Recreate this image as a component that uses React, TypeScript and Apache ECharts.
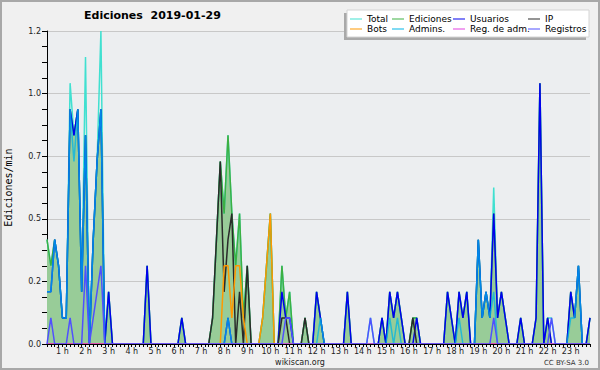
import React, { useEffect, useRef } from 'react';
import * as echarts from 'echarts';

// 10-minute bins from 00:20 to 23:50
const START_MIN = 20;
const STEP_MIN = 10;
const BIN_COUNT = 142;
const categories: string[] = [];
for (let k = 0; k < BIN_COUNT; k++) {
  const m = START_MIN + k * STEP_MIN;
  const h = Math.floor(m / 60);
  const mm = m % 60;
  categories.push(`${String(h).padStart(2, '0')}:${String(mm).padStart(2, '0')}`);
}

const hourLabels = ['1 h', '2 h', '3 h', '4 h', '5 h', '6 h', '7 h', '8 h', '9 h', '10 h', '11 h', '12 h',
  '13 h', '14 h', '15 h', '16 h', '17 h', '18 h', '19 h', '20 h', '21 h', '22 h', '23 h'];

const total = [
  0.4, 0.3, 0.4, 0.3,
  0.1, 0.1, 1.0, 0.8, 0.9, 0.2,
  1.1, 0, 0.4, 0.7, 1.2, 0,
  0.2, 0, 0, 0, 0, 0,
  0, 0, 0, 0, 0.3, 0,
  0, 0, 0, 0, 0, 0,
  0, 0.1, 0, 0, 0, 0,
  0, 0, 0, 0.1, 0.4, 0.7,
  0.5, 0.8, 0.5, 0.3, 0.5, 0.1,
  0.3, 0, 0, 0, 0.1, 0.3,
  0.5, 0, 0, 0.3, 0.1, 0.2,
  0, 0, 0, 0.1, 0, 0,
  0.2, 0.1, 0, 0, 0, 0,
  0, 0, 0.2, 0, 0, 0,
  0, 0, 0.1, 0, 0, 0.1,
  0, 0.2, 0.1, 0.2, 0.1, 0,
  0, 0.1, 0.1, 0, 0, 0,
  0, 0, 0, 0, 0.2, 0.1,
  0, 0.2, 0.1, 0.2, 0, 0,
  0.4, 0.1, 0.2, 0.1, 0.6, 0.1,
  0.2, 0.1, 0, 0, 0, 0.1,
  0, 0, 0, 0.1, 1.0, 0,
  0.1, 0.1, 0, 0, 0, 0,
  0.2, 0.1, 0.3, 0, 0, 0.1,
];

const ediciones = [
  0.4, 0.3, 0.4, 0.3,
  0.1, 0.1, 0.9, 0.8, 0.9, 0.2,
  0.8, 0, 0.4, 0.7, 0.9, 0,
  0.2, 0, 0, 0, 0, 0,
  0, 0, 0, 0, 0.3, 0,
  0, 0, 0, 0, 0, 0,
  0, 0.1, 0, 0, 0, 0,
  0, 0, 0, 0.1, 0.4, 0.7,
  0.5, 0.8, 0.5, 0.3, 0.5, 0.1,
  0.3, 0, 0, 0, 0.1, 0.3,
  0.5, 0, 0, 0.3, 0.1, 0.2,
  0, 0, 0, 0.1, 0, 0,
  0.2, 0.1, 0, 0, 0, 0,
  0, 0, 0.2, 0, 0, 0,
  0, 0, 0, 0, 0, 0.1,
  0, 0.2, 0.1, 0.2, 0.1, 0,
  0, 0.1, 0.1, 0, 0, 0,
  0, 0, 0, 0, 0.2, 0.1,
  0, 0.2, 0.1, 0.2, 0, 0,
  0.4, 0.1, 0.2, 0.1, 0.5, 0.1,
  0.2, 0.1, 0, 0, 0, 0.1,
  0, 0, 0, 0.1, 1.0, 0,
  0.1, 0, 0, 0, 0, 0,
  0.2, 0.1, 0.3, 0, 0, 0.1,
];

const usuarios = [
  0.2, 0.2, 0.4, 0.3,
  0.1, 0.1, 0.9, 0.8, 0.9, 0.2,
  0.8, 0, 0.4, 0.7, 0.9, 0,
  0.2, 0, 0, 0, 0, 0,
  0, 0, 0, 0, 0.3, 0,
  0, 0, 0, 0, 0, 0,
  0, 0.1, 0, 0, 0, 0,
  0, 0, 0, 0, 0, 0,
  0, 0.1, 0, 0, 0, 0,
  0, 0, 0, 0, 0, 0,
  0, 0, 0, 0.2, 0.1, 0.1,
  0, 0, 0, 0, 0, 0,
  0.2, 0.1, 0, 0, 0, 0,
  0, 0, 0.2, 0, 0, 0,
  0, 0, 0, 0, 0, 0.1,
  0, 0.2, 0.1, 0.2, 0.1, 0,
  0, 0, 0.1, 0, 0, 0,
  0, 0, 0, 0, 0.2, 0.1,
  0, 0.2, 0.1, 0.2, 0, 0,
  0.4, 0.1, 0.2, 0.1, 0.5, 0.1,
  0.2, 0.1, 0, 0, 0, 0.1,
  0, 0, 0, 0.1, 1.0, 0,
  0.1, 0, 0, 0, 0, 0,
  0.2, 0.1, 0.3, 0, 0, 0.1,
];

const ip = [
  0, 0, 0, 0,
  0, 0, 0, 0, 0, 0,
  0, 0, 0, 0, 0, 0,
  0, 0, 0, 0, 0, 0,
  0, 0, 0, 0, 0, 0,
  0, 0, 0, 0, 0, 0,
  0, 0, 0, 0, 0, 0,
  0, 0, 0, 0.1, 0.4, 0.7,
  0.2, 0.4, 0.5, 0, 0.2, 0,
  0.3, 0, 0, 0, 0, 0,
  0, 0, 0, 0.1, 0.1, 0,
  0, 0, 0, 0.1, 0, 0,
  0, 0, 0, 0, 0, 0,
  0, 0, 0, 0, 0, 0,
  0, 0, 0, 0, 0, 0,
  0, 0, 0, 0, 0, 0,
  0, 0.1, 0, 0, 0, 0,
  0, 0, 0, 0, 0, 0,
  0, 0, 0, 0, 0, 0,
  0, 0, 0, 0, 0, 0,
  0, 0, 0, 0, 0, 0,
  0, 0, 0, 0, 0, 0,
  0, 0, 0, 0, 0, 0,
  0, 0, 0, 0, 0, 0,
];

const bots = [
  0, 0, 0, 0,
  0, 0, 0, 0, 0, 0,
  0, 0, 0, 0, 0, 0,
  0, 0, 0, 0, 0, 0,
  0, 0, 0, 0, 0, 0,
  0, 0, 0, 0, 0, 0,
  0, 0, 0, 0, 0, 0,
  0, 0, 0, 0, 0, 0,
  0.3, 0.3, 0.1, 0.3, 0.3, 0.1,
  0, 0, 0, 0, 0.1, 0.3,
  0.5, 0, 0, 0, 0, 0,
  0, 0, 0, 0, 0, 0,
  0, 0, 0, 0, 0, 0,
  0, 0, 0, 0, 0, 0,
  0, 0, 0, 0, 0, 0,
  0, 0, 0, 0, 0, 0,
  0, 0, 0, 0, 0, 0,
  0, 0, 0, 0, 0, 0,
  0, 0, 0, 0, 0, 0,
  0, 0, 0, 0, 0, 0,
  0, 0, 0, 0, 0, 0,
  0, 0, 0, 0, 0, 0,
  0, 0, 0, 0, 0, 0,
  0, 0, 0, 0, 0, 0,
];

const admins = [
  0.2, 0.2, 0.4, 0.3,
  0.1, 0.1, 0.9, 0.7, 0.9, 0.2,
  0.8, 0, 0.4, 0.7, 0.9, 0,
  0, 0, 0, 0, 0, 0,
  0, 0, 0, 0, 0, 0,
  0, 0, 0, 0, 0, 0,
  0, 0, 0, 0, 0, 0,
  0, 0, 0, 0, 0, 0,
  0, 0.1, 0, 0, 0, 0,
  0, 0, 0, 0, 0, 0,
  0, 0, 0, 0, 0, 0,
  0, 0, 0, 0, 0, 0,
  0, 0.1, 0, 0, 0, 0,
  0, 0, 0, 0, 0, 0,
  0, 0, 0, 0, 0, 0,
  0, 0.1, 0, 0.1, 0, 0,
  0, 0, 0, 0, 0, 0,
  0, 0, 0, 0, 0, 0,
  0, 0.1, 0, 0, 0, 0,
  0.4, 0.1, 0.2, 0.1, 0.2, 0,
  0, 0, 0, 0, 0, 0,
  0, 0, 0, 0, 0, 0,
  0, 0, 0, 0, 0, 0,
  0.1, 0.1, 0.3, 0, 0, 0,
];

const regAdm = [
  0, 0, 0, 0,
  0, 0, 0, 0, 0, 0,
  0, 0, 0, 0, 0, 0,
  0, 0, 0, 0, 0, 0,
  0, 0, 0, 0, 0, 0,
  0, 0, 0, 0, 0, 0,
  0, 0, 0, 0, 0, 0,
  0, 0, 0, 0, 0, 0,
  0, 0, 0, 0, 0, 0,
  0, 0, 0, 0, 0, 0,
  0, 0, 0, 0, 0, 0,
  0, 0, 0, 0, 0, 0,
  0, 0, 0, 0, 0, 0,
  0, 0, 0, 0, 0, 0,
  0, 0, 0, 0, 0, 0,
  0, 0, 0, 0, 0, 0,
  0, 0, 0, 0, 0, 0,
  0, 0, 0, 0, 0, 0,
  0, 0, 0, 0, 0, 0,
  0, 0, 0, 0, 0, 0,
  0, 0, 0, 0, 0, 0,
  0, 0, 0, 0, 0, 0,
  0, 0, 0, 0, 0, 0,
  0, 0, 0, 0, 0, 0,
];

const registros = [
  0, 0.1, 0, 0,
  0, 0, 0.1, 0, 0, 0,
  0.3, 0, 0.1, 0.2, 0.3, 0,
  0, 0, 0, 0, 0, 0,
  0, 0, 0, 0, 0, 0,
  0, 0, 0, 0, 0, 0,
  0, 0, 0, 0, 0, 0,
  0, 0, 0, 0, 0, 0,
  0, 0, 0, 0, 0, 0,
  0, 0, 0, 0, 0, 0,
  0, 0, 0, 0, 0.1, 0.1,
  0, 0, 0, 0, 0, 0,
  0, 0, 0, 0, 0, 0,
  0, 0, 0, 0, 0, 0,
  0, 0, 0.1, 0, 0, 0,
  0, 0, 0, 0, 0, 0,
  0, 0, 0, 0, 0, 0,
  0, 0, 0, 0, 0, 0,
  0, 0, 0, 0, 0, 0,
  0, 0, 0, 0, 0.1, 0,
  0, 0, 0, 0, 0, 0,
  0, 0, 0, 0, 0, 0,
  0, 0.1, 0, 0, 0, 0,
  0, 0, 0, 0, 0, 0,
];

const legendColumns = [
  ['Total', 'Bots'],
  ['Ediciones', 'Admins.'],
  ['Usuarios', 'Reg. de adm.'],
  ['IP', 'Registros'],
];
const legendLeft = [350, 392, 453, 528];

const FONT = 'DejaVu Sans';

function lineSeries(name: string, data: number[], color: string, extra: any = {}) {
  const { lineStyle, ...rest } = extra;
  return {
    type: 'line',
    name,
    data,
    showSymbol: false,
    symbol: 'none',
    silent: true,
    lineStyle: { color, width: 1.5, ...(lineStyle || {}) },
    itemStyle: { color },
    ...rest,
  };
}

export default function App() {
  const ref = useRef<HTMLDivElement>(null);

  useEffect(() => {
    document.body.style.margin = '0';
    if (!ref.current) return;
    const chart = echarts.init(ref.current, undefined, { renderer: 'svg' });
    chart.setOption({
      animation: false,
      backgroundColor: '#f0f0f0',
      title: {
        text: 'Ediciones  2019-01-29',
        left: 84,
        top: 10,
        padding: 0,
        textStyle: { fontFamily: FONT, fontSize: 11, fontWeight: 'bold', color: '#000' },
      },
      legend: legendColumns.map((d, k) => ({
        data: d,
        orient: 'vertical',
        left: legendLeft[k],
        top: 14,
        padding: 0,
        itemWidth: 12,
        itemHeight: 1,
        itemGap: 0,
        icon: 'rect',
        selectedMode: false,
        textStyle: { fontFamily: FONT, fontSize: 9, lineHeight: 10, color: '#000' },
      })),
      grid: {
        left: 47,
        right: 10,
        top: 31,
        bottom: 26,
        show: true,
        containLabel: false,
        outerBoundsMode: 'none',
        backgroundColor: '#eceef0',
        borderWidth: 0,
      },
      xAxis: {
        type: 'category',
        data: categories,
        boundaryGap: false,
        z: 5,
        axisLine: { show: true, lineStyle: { color: '#000', width: 1 } },
        axisTick: { show: true, interval: 0, length: 3, lineStyle: { color: '#000' } },
        axisLabel: {
          interval: (_i: number, v: string) => v.endsWith(':00'),
          formatter: (v: string) => hourLabels[parseInt(v, 10) - 1] ?? '',
          fontFamily: FONT,
          fontSize: 8,
          color: '#222',
          margin: 3,
        },
        splitLine: { show: false },
      },
      yAxis: {
        type: 'value',
        min: 0,
        max: 1.2,
        interval: 0.24,
        name: 'Ediciones/min',
        nameLocation: 'middle',
        nameGap: 34,
        nameTextStyle: { fontFamily: 'DejaVu Sans Mono', fontSize: 10, color: '#000' },
        axisLine: { show: true, lineStyle: { color: '#000', width: 1 } },
        axisTick: { show: true, length: 5, lineStyle: { color: '#000' } },
        minorTick: { show: true, splitNumber: 4, length: 5, lineStyle: { color: '#000' } },
        axisLabel: {
          formatter: (v: number) => v.toFixed(1),
          fontFamily: FONT,
          fontSize: 8,
          color: '#222',
          margin: 6,
        },
        splitLine: { show: true, lineStyle: { color: '#c8c8c8', width: 1 } },
        minorSplitLine: { show: false },
      },
      series: [
        lineSeries('Total', total, '#40e0d0'),
        lineSeries('Ediciones', ediciones, '#3cb043', { areaStyle: { color: '#98cc98', opacity: 1 } }),
        lineSeries('Usuarios', usuarios, '#0000ee'),
        lineSeries('IP', ip, '#2a2a2a'),
        lineSeries('Bots', bots, '#ff9900'),
        lineSeries('Admins.', admins, '#00b4e6', { lineStyle: { opacity: 0.75 } }),
        lineSeries('Reg. de adm.', regAdm, '#e040e0'),
        lineSeries('Registros', registros, '#5050ff'),
      ],
      graphic: [
        { type: 'rect', z: 3, silent: true, shape: { x: 344, y: 13, width: 242, height: 27 }, style: { fill: '#a9a9a9' } },
        { type: 'rect', z: 3, silent: true, shape: { x: 347, y: 10, width: 242, height: 27 }, style: { fill: '#ffffff', stroke: '#d4d4d4', lineWidth: 1 } },
        { type: 'text', z: 3, silent: true, x: 300, y: 362, style: { text: 'wikiscan.org', fontFamily: FONT, fontSize: 8, fill: '#222', align: 'center', verticalAlign: 'middle' } },
        { type: 'text', z: 3, silent: true, x: 589, y: 363, style: { text: 'CC BY-SA 3.0', fontFamily: FONT, fontSize: 7, fill: '#333', align: 'right', verticalAlign: 'middle' } },
        { type: 'rect', z: 10, silent: true, shape: { x: 1, y: 1, width: 598, height: 368 }, style: { fill: 'none', stroke: '#a8a8a8', lineWidth: 2 } },
      ],
    });
    return () => chart.dispose();
  }, []);

  return <div ref={ref} style={{ width: 600, height: 370 }} />;
}
